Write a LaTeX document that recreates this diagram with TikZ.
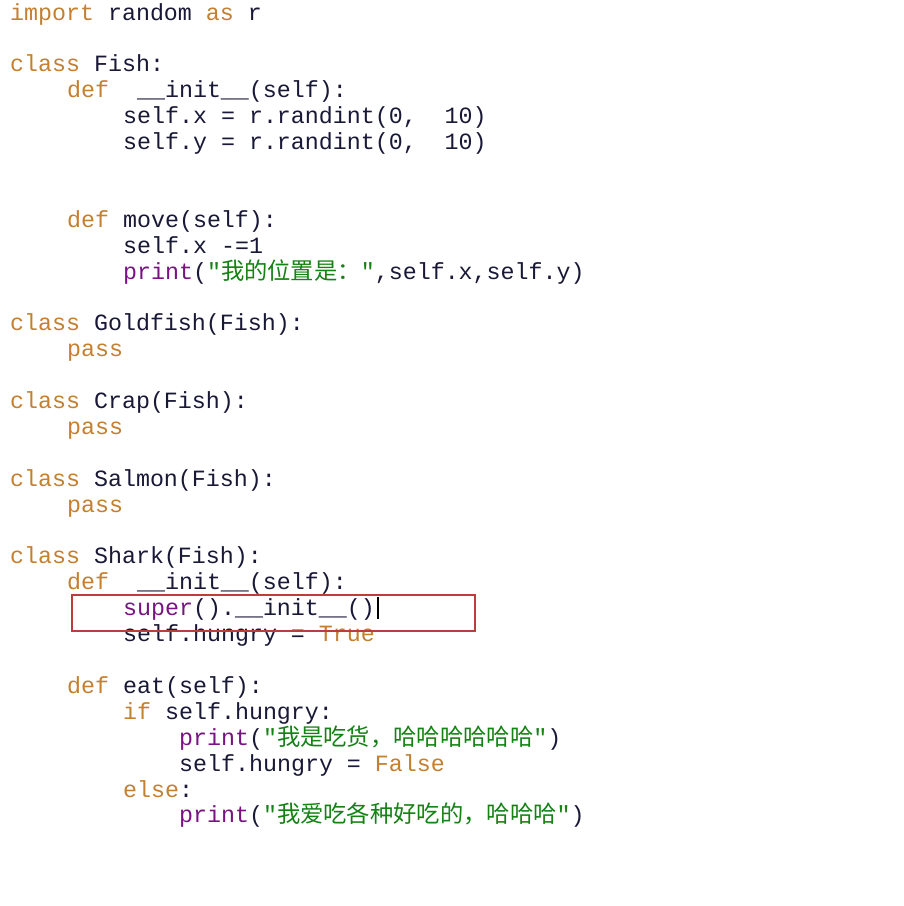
\documentclass[tikz,border=0pt]{standalone}
\usepackage{fontspec}
\setmonofont{Liberation Mono}
\newfontfamily\cj{Noto Sans CJK SC}
\definecolor{kw}{RGB}{196,128,48}
\definecolor{bi}{RGB}{120,20,130}
\definecolor{st}{RGB}{20,130,20}
\definecolor{tx}{RGB}{25,25,55}
\definecolor{bx}{RGB}{190,60,60}
\newcommand{\K}[1]{\textcolor{kw}{#1}}
\newcommand{\B}[1]{\textcolor{bi}{#1}}
\newcommand{\Sg}[1]{\textcolor{st}{#1}}
\begin{document}
\begin{tikzpicture}[x=1pt,y=1pt,
  code/.style={anchor=base west,inner sep=0pt,font=\fontsize{23.3}{26}\ttfamily,text=tx}]
\useasboundingbox[fill=white] (0,0) rectangle (904,-906);
\def\L#1{(-20-25.9*#1)}
\node[code] (l0) at (10,-20) {\K{import} random \K{as} r};
\node[code] (l2) at (10,-71.8) {\K{class} Fish:};
\node[code] (l3) at (67,-97.7) {\K{def} \ \_\_init\_\_(self):};
\node[code] (l4) at (123,-123.6) {self.x = r.randint(0,\ \ 10)};
\node[code] (l5) at (123,-149.5) {self.y = r.randint(0,\ \ 10)};
\node[code] (l8) at (67,-227.2) {\K{def} move(self):};
\node[code] (l9) at (123,-253.1) {self.x -=1};
\node[code] (l10) at (123,-279) {\B{print}(\Sg{"{\cj 我的位置是：}"},self.x,self.y)};
\node[code] (l12) at (10,-330.8) {\K{class} Goldfish(Fish):};
\node[code] (l13) at (67,-356.7) {\K{pass}};
\node[code] (l15) at (10,-408.5) {\K{class} Crap(Fish):};
\node[code] (l16) at (67,-434.4) {\K{pass}};
\node[code] (l18) at (10,-486.2) {\K{class} Salmon(Fish):};
\node[code] (l19) at (67,-512.1) {\K{pass}};
\node[code] (l21) at (10,-563.9) {\K{class} Shark(Fish):};
\node[code] (l22) at (67,-589.8) {\K{def} \ \_\_init\_\_(self):};
\node[code] (l23) at (123,-615.7) {\B{super}().\_\_init\_\_()};
\node[code] (l24) at (123,-641.6) {self.hungry = \K{True}};
\node[code] (l26) at (67,-693.4) {\K{def} eat(self):};
\node[code] (l27) at (123,-719.3) {\K{if} self.hungry:};
\node[code] (l28) at (179,-745.2) {\B{print}(\Sg{"{\cj 我是吃货，哈哈哈哈哈哈}"})};
\node[code] (l29) at (179,-771.1) {self.hungry = \K{False}};
\node[code] (l30) at (123,-797) {\K{else}:};
\node[code] (l31) at (179,-822.9) {\B{print}(\Sg{"{\cj 我爱吃各种好吃的，哈哈哈}"})};
\draw[black,line width=2pt] (l23.east)++(3,-9) -- ++(0,22);
\draw[bx,line width=1.2pt] (72,-595) rectangle (475,-631);
\end{tikzpicture}
\end{document}
